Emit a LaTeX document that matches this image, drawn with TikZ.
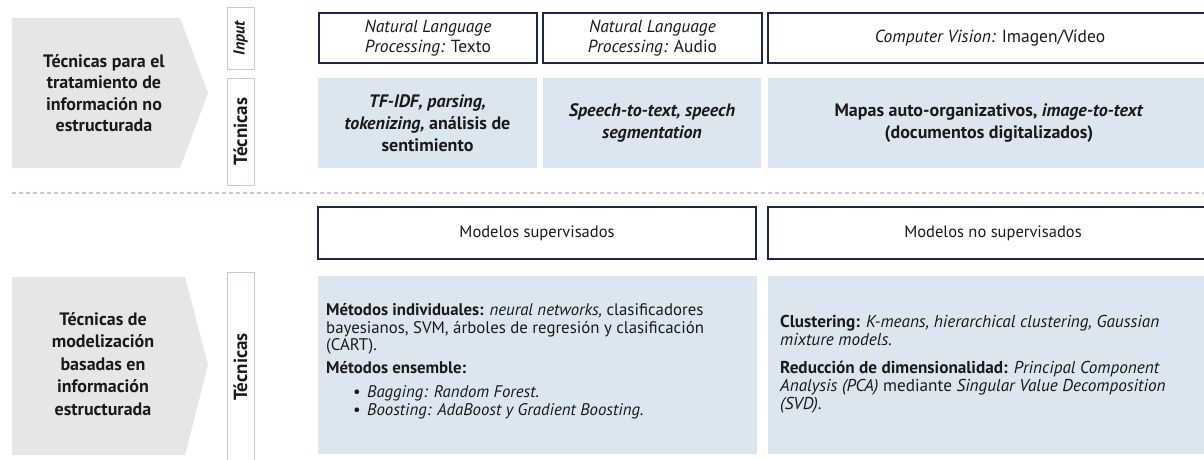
\documentclass[tikz,border=0pt]{standalone}
\usepackage{fontspec}
\setmainfont{PT Sans}
\definecolor{arrowgray}{HTML}{E6E6E6}
\definecolor{techblue}{HTML}{DCE6F0}
\definecolor{navy}{HTML}{1E2845}
\definecolor{lblborder}{HTML}{CFC8C4}
\definecolor{dashcol}{HTML}{D2C6C6}
\definecolor{txt}{HTML}{1A1A1A}
\tikzset{
  hdrbox/.style={draw=navy, line width=2pt, fill=white, inner sep=0pt, align=center, text=txt,
    font=\fontsize{17.5}{20}\selectfont},
  bluebox/.style={fill=techblue, inner sep=0pt, align=center, text=txt,
    font=\bfseries\fontsize{18}{22}\selectfont},
  lblbox/.style={draw=lblborder, line width=0.8pt, fill=white, inner sep=0pt, rotate=90, text=txt,
    font=\bfseries\fontsize{19}{20}\selectfont},
  sidetxt/.style={align=center, text=txt, font=\bfseries\fontsize{18}{21.5}\selectfont},
  bodytxt/.style={align=left, anchor=west, inner sep=0pt, text=txt, font=\fontsize{16.8}{17.8}\selectfont},
  sep/.style={draw=dashcol, line width=1.5pt, dash pattern=on 4pt off 3pt}
}
\begin{document}
\begin{tikzpicture}[x=1pt,y=-1pt]
\useasboundingbox (0,0) rectangle (1204,459);
\fill[white] (0,0) rectangle (1204,459);
\begin{scope}
\clip (0,0) rectangle (1204,459);
% ---------- top section ----------
\fill[arrowgray] (12,18) -- (180,18) -- (208,93) -- (180,168) -- (12,168) -- cycle;
\node[sidetxt] (side1) at (104,93) {Técnicas para el\\tratamiento de\\información no\\estructurada};

\node[lblbox, minimum width=62, minimum height=27, font=\bfseries\fontsize{16}{18}\selectfont] (inp) at (240.5,38) {\itshape Input};
\node[lblbox, minimum width=107, minimum height=27] (tec1) at (240.5,131.5) {Técnicas};

\node[hdrbox, minimum width=218, minimum height=50] (h1) at (428,38) {\itshape Natural Language\\\itshape Processing:\upshape{} Texto};
\node[hdrbox, minimum width=219, minimum height=50] (h2) at (652.5,38) {\itshape Natural Language\\\itshape Processing:\upshape{} Audio};
\node[hdrbox, minimum width=446, minimum height=50] (h3) at (991,38) {};
\node[text=txt, font=\fontsize{17.5}{20}\selectfont] (h3t) at (990,38) {\itshape Computer Vision:\upshape{} Imagen/Vídeo};

\node[bluebox, minimum width=219, minimum height=90] (b1) at (427.5,123) {\itshape TF-IDF, parsing,\\\itshape tokenizing,\upshape{} análisis de\\sentimiento};
\node[bluebox, minimum width=218, minimum height=90] (b2) at (652,123) {\itshape Speech-to-text, speech\\\itshape segmentation};
\node[bluebox, minimum width=446, minimum height=90] (b3) at (991,123) {};
\node[align=center, text=txt, font=\bfseries\fontsize{18}{22}\selectfont] (b3t) at (989,123) {Mapas auto-organizativos, \textit{image-to-text}\\(documentos digitalizados)};

% ---------- separator ----------
\coordinate (sepL) at (12,193);
\coordinate (sepR) at (1204,193);
\draw[sep] (sepL) -- (sepR);

% ---------- bottom section ----------
\fill[arrowgray] (12,277) -- (185,277) -- (208,365) -- (185,455) -- (12,455) -- cycle;
\node[sidetxt, font=\bfseries\fontsize{18}{22.5}\selectfont] (side2) at (103,364) {Técnicas de\\modelización\\basadas en\\información\\estructurada};

\node[lblbox, minimum width=190, minimum height=27] (tec2) at (240.5,367) {Técnicas};

\node[hdrbox, minimum width=438, minimum height=52, font=\fontsize{16.5}{20}\selectfont] (m1) at (537,233) {Modelos supervisados};
\node[hdrbox, minimum width=446, minimum height=52] (m2) at (991,233) {};
\node[text=txt, font=\fontsize{16.5}{20}\selectfont] (m2t) at (993,233) {Modelos no supervisados};

\node[bluebox, minimum width=439, minimum height=178] (c1) at (537.5,365) {};
\node[bluebox, minimum width=446, minimum height=178] (c2) at (991,365) {};

\node[bodytxt] (c1t) at (326,361) {\textbf{Métodos individuales:} \textit{neural networks,} clasificadores\\
bayesianos, SVM, árboles de regresión y clasificación\\
(CART).\\[5pt]
\textbf{Métodos ensemble:}\\[6pt]
\hspace*{27pt}\makebox[14pt][l]{\textbullet}\textit{Bagging: Random Forest.}\\
\hspace*{27pt}\makebox[14pt][l]{\textbullet}\textit{Boosting: AdaBoost y Gradient Boosting.}};

\node[bodytxt, font=\fontsize{17.2}{18}\selectfont] (c2t) at (780,364) {\textbf{Clustering:} \textit{K-means, hierarchical clustering, Gaussian}\\
\textit{mixture models.}\\[10pt]
\textbf{Reducción de dimensionalidad:} \textit{Principal Component}\\
\textit{Analysis (PCA)} mediante \textit{Singular Value Decomposition}\\
\textit{(SVD).}};
\end{scope}
\end{tikzpicture}
\end{document}
